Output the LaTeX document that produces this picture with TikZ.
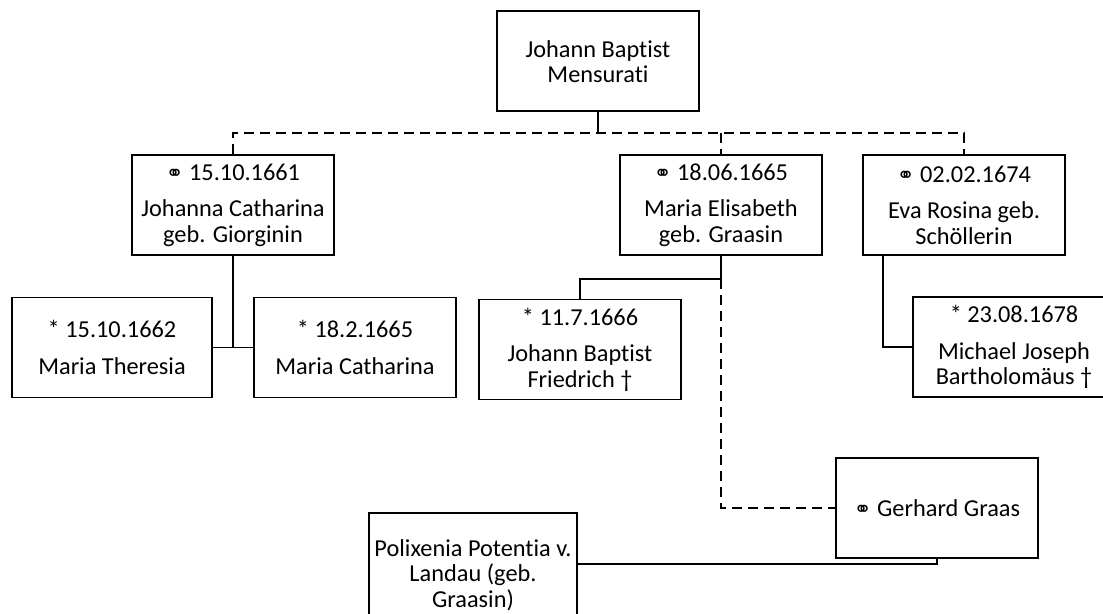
\documentclass[tikz,border=0pt]{standalone}
\usepackage{fontspec}
\setmainfont{Carlito}[Ligatures=NoCommon]
\newfontfamily\symbolfont{DejaVu Sans}
\newcommand{\wed}{{\symbolfont\fontsize{15}{15}\selectfont ⚭}}
\tikzset{
    person/.style={draw, line width=1.4pt, minimum width=5.05cm,
        minimum height=2.5cm, align=center, inner sep=0pt,
        font=\fontsize{17.3}{18}\selectfont},
    link/.style={line width=1.4pt},
    maybe/.style={line width=1.4pt, dash pattern=on 0.25cm off 0.15cm}
}
\begin{document}
\begin{tikzpicture}
                \useasboundingbox (0,0) rectangle (27.575,15.325);

                \node[person] (mensurati) at (14.95,13.79)
                    {Johann Baptist\\Mensurati};
                \node[person] (johanna) at (5.825,10.2)
                    {\wed{} 15.10.1661\\[8pt]Johanna Catharina\\geb. Giorginin};
                \node[person] (elisabeth) at (18.025,10.2)
                    {\wed{} 18.06.1665\\[8pt]Maria Elisabeth\\geb. Graasin};
                \node[person] (eva) at (24.1,10.2)
                    {\wed{} 02.02.1674\\[8pt]Eva Rosina geb.\\Schöllerin};
                \node[person, minimum width=5cm] (theresia) at (2.8,6.6375)
                    {* 15.10.1662\\[8pt]Maria Theresia};
                \node[person] (catharina) at (8.875,6.6375)
                    {* 18.2.1665\\[8pt]Maria Catharina};
                \node[person] (friedrich) at (14.5,6.5875)
                    {* 11.7.1666\\[8pt]Johann Baptist\\Friedrich †};
                \node[person] (michael) at (25.35,6.65)
                    {* 23.08.1678\\[8pt]Michael Joseph\\Bartholomäus †};
                \node[person] (gerhard) at (23.425,2.625)
                    {\wed{} Gerhard Graas};
                \node[person, minimum width=5.2cm, minimum height=3.1cm] (polixenia) at (11.825,0.95)
                    {Polixenia Potentia v.\\Landau (geb.\\Graasin)};

                \coordinate (bar) at (14.95,12);
                \path (elisabeth.south) ++(0,-0.575) coordinate (split);
                \path (gerhard.south) ++(0,-0.125) coordinate (foot);

                \draw[link] (mensurati.south) -- (bar);
                \draw[maybe] (johanna.north) |- (bar) -| (eva.north);
                \draw[maybe] (bar -| elisabeth.north) -- (elisabeth.north);

                \draw[link] (johanna.south) -- (johanna.south |- theresia.east);
                \draw[link] (theresia.east) -- (catharina.west);

                \draw[link] (elisabeth.south) -- (split) -| (friedrich.north);
                \draw[maybe] (split) |- (gerhard.west);

                \draw[link] ([xshift=-2.025cm]eva.south) |- (michael.west);

                \draw[link] (gerhard.south) -- (foot) -- (foot -| polixenia.east);
            \end{tikzpicture}
\end{document}
